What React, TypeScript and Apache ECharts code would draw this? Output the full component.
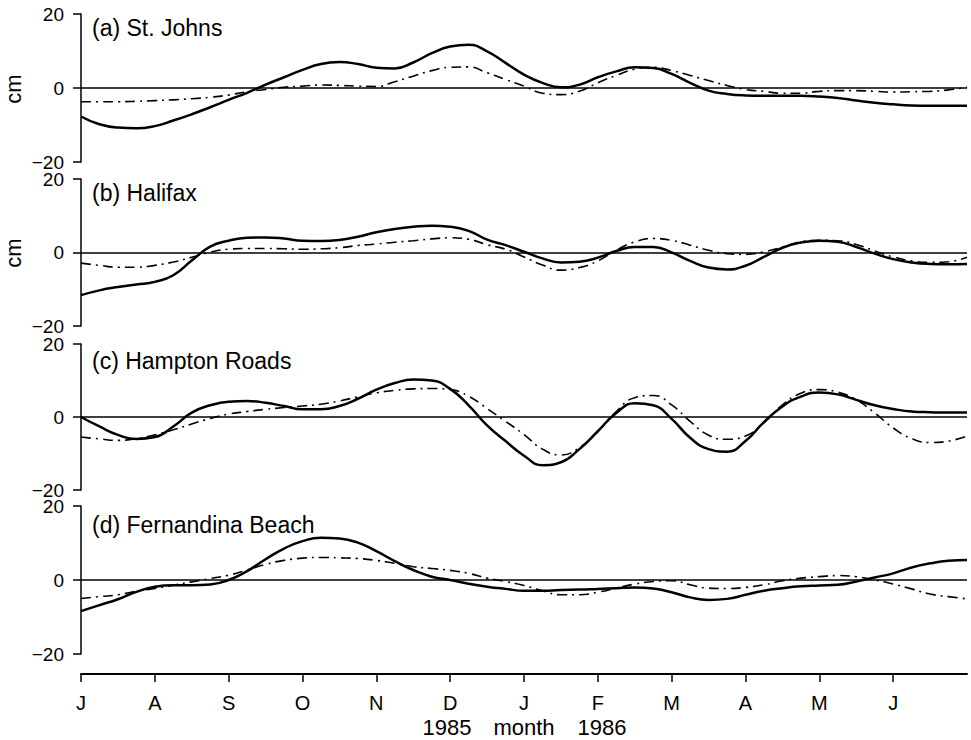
import React, { useEffect, useRef } from "react";
import * as echarts from "echarts";

const months = [
  0, 0.25, 0.5, 0.75, 1, 1.25, 1.5, 1.75, 2, 2.25, 2.5, 2.75, 3, 3.25, 3.5, 3.75, 4, 4.25, 4.5, 4.75, 5,
  5.25, 5.5, 5.75, 6, 6.25, 6.5, 6.75, 7, 7.25, 7.5, 7.75, 8, 8.25, 8.5, 8.75, 9, 9.25, 9.5, 9.75, 10,
  10.25, 10.5, 10.75, 11, 11.25, 11.5, 11.75, 12,
];
const monthLabels = ["J", "A", "S", "O", "N", "D", "J", "F", "M", "A", "M", "J"];
const panelTitles = ["(a) St. Johns", "(b) Halifax", "(c) Hampton Roads", "(d) Fernandina Beach"];
const yearLabels = ["1985", "month", "1986"];

const stJohnsSolid = [
  -7.7, -9.8, -10.7, -10.9, -10.3, -8.8, -7.1, -5.2, -3.2, -1.3, 0.9, 2.9, 4.9, 6.5, 7.0, 6.5, 5.5, 5.3, 6.9, 9.4, 11.2,
  11.7, 9.9, 6.8, 3.6, 1.4, 0.2, 0.9, 2.9, 4.5, 5.6, 5.4, 3.8, 1.4, -0.7, -1.6, -2.0, -2.1, -2.1, -2.1, -2.3,
  -2.7, -3.4, -4.0, -4.4, -4.7, -4.8, -4.8, -4.8,
];
const stJohnsDash = [
  -3.7, -3.7, -3.7, -3.6, -3.4, -3.2, -2.9, -2.5, -1.9, -1.0, -0.4, 0.2, 0.5, 0.8, 0.7, 0.5, 0.4, 1.7, 3.2, 4.7, 5.6,
  5.7, 4.1, 2.3, 0.5, -1.4, -1.8, -0.9, 1.4, 3.4, 5.1, 5.6, 4.7, 3.4, 2.0, 0.7, -0.4, -0.9, -1.4, -1.4, -0.9,
  -0.7, -0.7, -0.9, -1.1, -1.0, -0.9, -0.5, 0.2,
];
const halifaxSolid = [
  -11.6, -10.3, -9.4, -8.7, -8.0, -6.2, -2.2, 1.6, 3.2, 4.0, 4.1, 3.8, 3.2, 3.1, 3.4, 4.3, 5.5, 6.4, 7.0, 7.3, 7.0,
  5.9, 3.5, 2.0, 0.2, -1.6, -2.7, -2.5, -1.4, 0.4, 1.5, 1.5, 0.0, -2.3, -4.1, -4.6, -3.6, -1.2, 1.3, 2.7, 3.2,
  2.9, 1.5, -0.3, -1.8, -2.7, -3.1, -3.2, -3.1,
];
const halifaxDash = [
  -2.9, -3.5, -4.0, -4.0, -3.5, -2.6, -1.3, 0.1, 0.9, 1.1, 1.1, 1.0, 0.9, 1.0, 1.3, 1.9, 2.3, 2.8, 3.2, 3.7, 4.0,
  3.6, 2.1, 0.9, -1.2, -3.4, -4.8, -4.1, -2.3, 0.6, 2.9, 3.8, 3.3, 2.0, 0.6, -0.3, -0.5, 0.2, 1.5, 2.9, 3.3,
  3.2, 2.2, 0.4, -1.2, -2.3, -2.7, -2.5, -1.3,
];
const hamptonSolid = [
  0, -2.6, -4.9, -6.0, -5.5, -2.6, 1.2, 3.2, 4.2, 4.4, 3.9, 3.0, 2.1, 2.1, 3.0, 5.0, 7.5, 9.3, 10.3, 10.0, 7.7,
  3.2, -2.3, -6.6, -10.6, -13.2, -12.4, -8.8, -3.9, 1.1, 3.8, 3.2, -0.5, -5.7, -8.8, -9.5, -6.6, -1.4, 2.9, 5.6, 6.7,
  6.2, 4.7, 3.2, 2.2, 1.5, 1.3, 1.2, 1.2,
];
const hamptonDash = [
  -5.5, -6.0, -6.4, -5.9, -4.9, -3.5, -1.9, -0.4, 0.8, 1.5, 2.1, 2.6, 3.0, 3.5, 4.4, 5.5, 6.6, 7.3, 7.7, 7.8, 7.5,
  5.7, 2.3, -1.2, -4.8, -8.8, -10.4, -8.4, -3.9, 1.5, 5.3, 5.9, 3.3, -1.2, -5.0, -6.1, -5.2, -1.6, 3.3, 6.5, 7.5,
  6.8, 4.7, 1.1, -3.0, -5.9, -7.0, -6.6, -5.2,
];
const fernSolid = [
  -8.4, -6.8, -5.2, -3.2, -1.8, -1.4, -1.4, -1.2, 0.0, 2.4, 5.6, 8.5, 10.5, 11.4, 11.2, 10.1, 7.8, 5.1, 2.7, 0.9, 0.0,
  -1.0, -1.8, -2.4, -2.9, -2.9, -2.7, -2.6, -2.4, -2.2, -2.0, -2.3, -3.3, -4.7, -5.4, -5.1, -4.0, -2.9, -2.2, -1.7, -1.5,
  -1.3, -0.4, 0.7, 1.8, 3.4, 4.5, 5.2, 5.4,
];
const fernDash = [
  -5.0, -4.5, -4.0, -3.0, -2.3, -1.4, -0.5, 0.4, 1.3, 2.7, 4.2, 5.3, 5.9, 6.1, 6.0, 5.8, 5.3, 4.5, 3.6, 3.1, 2.6,
  1.8, 0.5, -0.4, -1.5, -2.9, -4.0, -4.0, -3.3, -2.2, -1.1, -0.4, -0.2, -1.3, -2.2, -2.3, -2.0, -1.3, -0.2, 0.5, 0.9,
  1.2, 0.9, 0.0, -1.1, -2.4, -3.8, -4.5, -5.1,
];

const solidSeries = [stJohnsSolid, halifaxSolid, hamptonSolid, fernSolid];
const dashSeries = [stJohnsDash, halifaxDash, hamptonDash, fernDash];

export default function App() {
  const ref = useRef<HTMLDivElement>(null);
  useEffect(() => {
    const chart = echarts.init(ref.current!, null, { renderer: "svg" });
    const FONT = "'Liberation Sans', Arial, Helvetica, sans-serif";
    const tops = [14, 179, 344, 506];
    const heights = [148, 147, 146, 148];
    const titleY = [28, 193, 361, 525];
    const fmtY = (v: number) => (v < 0 ? "\u2212" + Math.abs(v) : String(v));

    const grid = tops.map((t, i) => ({ left: 81, width: 886, top: t, height: heights[i] }));
    const xAxis = tops.map((_, i) =>
      i < 3
        ? { gridIndex: i, type: "value", min: 0, max: 12, interval: 1, show: false }
        : {
            gridIndex: i,
            type: "value",
            min: 0,
            max: 12,
            interval: 1,
            offset: 20,
            axisLine: { show: true, onZero: false, lineStyle: { color: "#000", width: 2 } },
            axisTick: { show: true, inside: false, length: 8, lineStyle: { color: "#000", width: 1.5 } },
            axisLabel: {
              formatter: (v: number) => monthLabels[Math.round(v)] ?? "",
              fontSize: 20,
              color: "#000",
              fontFamily: FONT,
              margin: 19,
              showMaxLabel: false,
            },
            splitLine: { show: false },
          }
    );
    const yAxis = tops.map((_, i) => ({
      gridIndex: i,
      type: "value",
      min: -20,
      max: 20,
      interval: 20,
      axisLine: { show: true, onZero: false, lineStyle: { color: "#000", width: 1.5 } },
      axisTick: { show: true, inside: false, length: 8, lineStyle: { color: "#000", width: 1.5 } },
      axisLabel: { formatter: fmtY, fontSize: 19, color: "#000", fontFamily: FONT, margin: 17 },
      splitLine: { show: false },
    }));

    const series: any[] = [];
    for (let i = 0; i < 4; i++) {
      series.push({
        type: "line",
        xAxisIndex: i,
        yAxisIndex: i,
        data: months.map((m, j) => [m, solidSeries[i][j]]),
        smooth: 0.5,
        symbol: "none",
        lineStyle: { color: "#000", width: 2.5 },
        markLine: {
          silent: true,
          symbol: ["none", "none"],
          label: { show: false },
          lineStyle: { color: "#000", width: 1.5, type: "solid" },
          data: [{ yAxis: 0 }],
        },
      });
      series.push({
        type: "line",
        xAxisIndex: i,
        yAxisIndex: i,
        data: months.map((m, j) => [m, dashSeries[i][j]]),
        smooth: 0.5,
        symbol: "none",
        lineStyle: { color: "#000", width: 1.6, type: [10, 5, 2, 5] },
      });
    }

    const graphic: any[] = [];
    panelTitles.forEach((t, i) => {
      graphic.push({
        type: "text",
        x: 92,
        y: titleY[i],
        style: { text: t, fontSize: 23, fontFamily: FONT, fill: "#000", align: "left", verticalAlign: "middle", textAlign: "left", textVerticalAlign: "middle" },
      });
    });
    [89, 253].forEach((cy) => {
      graphic.push({
        type: "text",
        x: 13,
        y: cy,
        rotation: Math.PI / 2,
        style: { text: "cm", fontSize: 22, fontFamily: FONT, fill: "#000", align: "center", verticalAlign: "middle", textAlign: "center", textVerticalAlign: "middle" },
      });
    });
    const yearX = [447, 524, 602];
    yearLabels.forEach((t, i) => {
      graphic.push({
        type: "text",
        x: yearX[i],
        y: 727,
        style: { text: t, fontSize: 22, fontFamily: FONT, fill: "#000", align: "center", verticalAlign: "middle", textAlign: "center", textVerticalAlign: "middle" },
      });
    });

    chart.setOption({
      animation: false,
      backgroundColor: "#fff",
      grid,
      xAxis,
      yAxis,
      series,
      graphic,
    });
    return () => chart.dispose();
  }, []);
  return <div ref={ref} style={{ position: "fixed", left: 0, top: 0, width: 971, height: 740, background: "#fff" }} />;
}
